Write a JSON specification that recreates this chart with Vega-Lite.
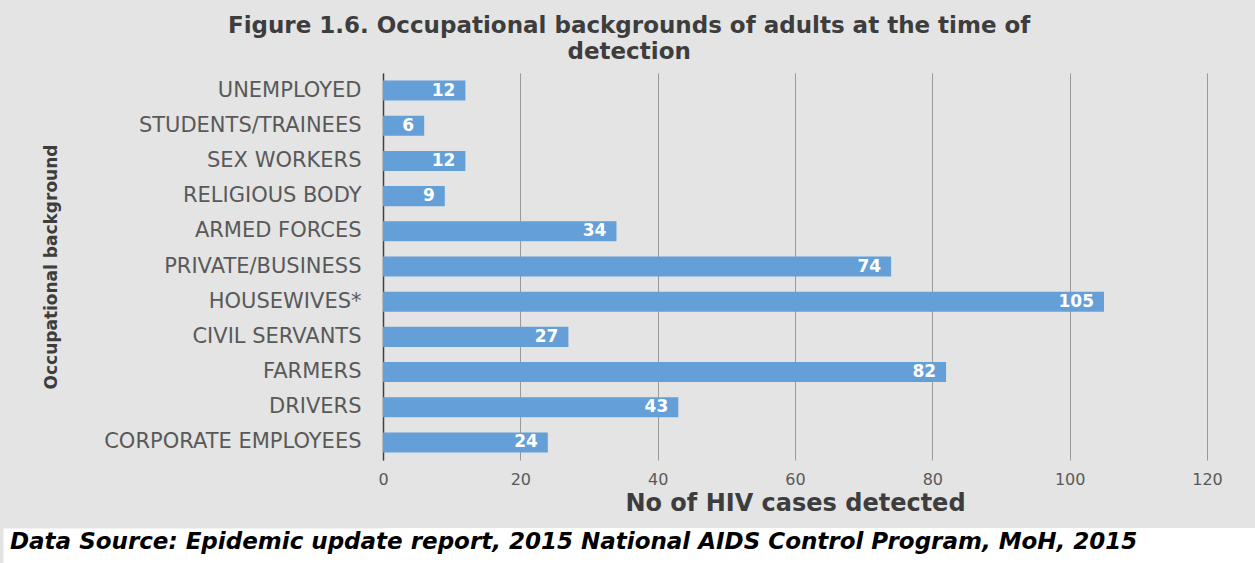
{
  "$schema": "https://vega.github.io/schema/vega-lite/v6.json",
  "background": "#e4e4e4",
  "padding": {"top": 15, "left": 0, "right": 0, "bottom": 0},
  "spacing": 13,
  "config": {"font": "DejaVu Sans"},
  "vconcat": [
    {
      "title": {
        "text": ["Figure 1.6. Occupational backgrounds of adults at the time of", "detection"],
        "fontSize": 23,
        "font": "DejaVu Sans",
        "fontWeight": "bold",
        "color": "#3d3d3d",
        "lineHeight": 26,
        "offset": 9,
        "frame": "bounds",
        "anchor": "middle",
        "dx": 18
      },
      "width": 824,
      "height": 387,
      "view": {"stroke": null},
      "data": {
        "values": [
          {"occupation": "UNEMPLOYED", "cases": 12},
          {"occupation": "STUDENTS/TRAINEES", "cases": 6},
          {"occupation": "SEX WORKERS", "cases": 12},
          {"occupation": "RELIGIOUS BODY", "cases": 9},
          {"occupation": "ARMED FORCES", "cases": 34},
          {"occupation": "PRIVATE/BUSINESS", "cases": 74},
          {"occupation": "HOUSEWIVES*", "cases": 105},
          {"occupation": "CIVIL SERVANTS", "cases": 27},
          {"occupation": "FARMERS", "cases": 82},
          {"occupation": "DRIVERS", "cases": 43},
          {"occupation": "CORPORATE EMPLOYEES", "cases": 24}
        ]
      },
      "encoding": {
        "y": {
          "field": "occupation",
          "type": "nominal",
          "sort": null,
          "scale": {"paddingInner": 0.43, "paddingOuter": 0.215},
          "axis": {
            "title": "Occupational background",
            "titleFont": "DejaVu Sans",
            "titleFontSize": 17,
            "titleFontWeight": "bold",
            "titleColor": "#3d3d3d",
            "titlePadding": 13,
            "labelFont": "DejaVu Sans",
            "labelFontSize": 21,
            "labelColor": "#595959",
            "labelLimit": 500,
            "ticks": true,
            "tickSize": 383,
            "tickOpacity": 0,
            "labelPadding": -361,
            "minExtent": 310,
            "maxExtent": 310,
            "domainColor": "#404040",
            "domainWidth": 1.5
          }
        },
        "x": {
          "field": "cases",
          "type": "quantitative",
          "scale": {"domain": [0, 120], "nice": false},
          "axis": {
            "title": "No of HIV cases detected",
            "titleFont": "DejaVu Sans",
            "titleFontSize": 24,
            "titleFontWeight": "bold",
            "titleColor": "#3d3d3d",
            "titlePadding": 4,
            "labelFont": "DejaVu Sans",
            "labelFontSize": 16,
            "labelColor": "#595959",
            "labelPadding": 11,
            "labelFlush": false,
            "ticks": false,
            "domain": false,
            "values": [0, 20, 40, 60, 80, 100, 120],
            "grid": true,
            "gridColor": "#999999",
            "gridWidth": 1
          }
        }
      },
      "layer": [
        {"mark": {"type": "bar", "color": "#659fd8"}},
        {
          "mark": {
            "type": "text",
            "align": "right",
            "baseline": "middle",
            "dx": -10,
            "color": "white",
            "font": "DejaVu Sans",
            "fontWeight": "bold",
            "fontSize": 17
          },
          "encoding": {"text": {"field": "cases", "type": "quantitative"}}
        }
      ]
    },
    {
      "width": 872,
      "height": 36,
      "view": {"fill": "white", "stroke": null},
      "data": {
        "values": [
          {"source": "Data Source: Epidemic update report, 2015 National AIDS Control Program, MoH, 2015"}
        ]
      },
      "mark": {
        "type": "text",
        "align": "left",
        "baseline": "middle",
        "dx": -373,
        "font": "DejaVu Sans",
        "fontSize": 23,
        "fontStyle": "italic",
        "fontWeight": "bold",
        "color": "#000000"
      },
      "encoding": {
        "text": {"field": "source", "type": "nominal"},
        "x": {"datum": 0, "type": "quantitative", "scale": {"domain": [0, 1]}, "axis": null},
        "y": {
          "datum": 0.6,
          "type": "quantitative",
          "scale": {"domain": [0, 1]},
          "axis": {
            "labels": false,
            "ticks": false,
            "grid": false,
            "title": null,
            "domainColor": "white",
            "domainWidth": 760
          }
        }
      }
    }
  ]
}
